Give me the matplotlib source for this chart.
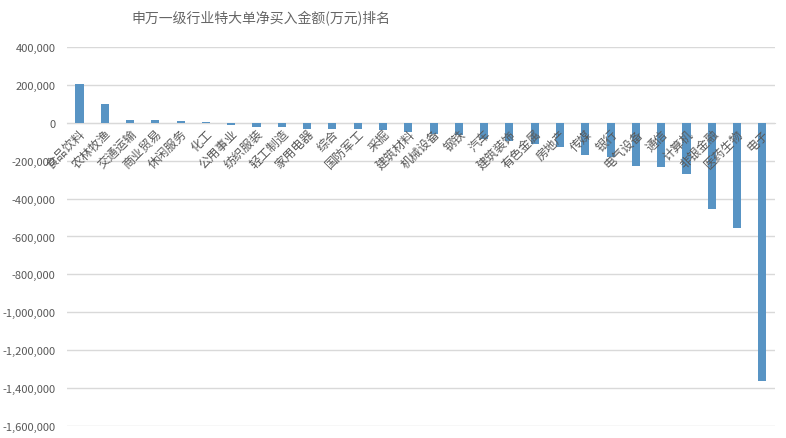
import matplotlib
matplotlib.use('Agg')
import matplotlib.pyplot as plt
from matplotlib.ticker import FuncFormatter

plt.rcParams['font.family'] = ['Noto Sans CJK SC', 'DejaVu Sans']

industries = ['食品饮料', '农林牧渔', '交通运输', '商业贸易', '休闲服务', '化工', '公用事业',
              '纺织服装', '轻工制造', '家用电器', '综合', '国防军工', '采掘', '建筑材料',
              '机械设备', '钢铁', '汽车', '建筑装饰', '有色金属', '房地产', '传媒', '银行',
              '电气设备', '通信', '计算机', '非银金融', '医药生物', '电子']
net_buy = [205000, 100000, 16000, 15000, 10000, 4000, -10000,
           -20000, -20000, -35000, -33000, -33000, -40000, -47000,
           -62000, -65000, -87000, -95000, -113000, -130000, -170000, -183000,
           -230000, -235000, -268000, -456000, -556000, -1360000]
yticks = list(range(-1600000, 400001, 200000))

fig = plt.figure(figsize=(7.86, 4.39), dpi=100)
ax = fig.add_axes([0.085, 0.027, 0.901, 0.864])

x = list(range(len(industries)))
ax.bar(x, net_buy, width=0.32, color='#5894C4', zorder=3)

ax.set_ylim(-1600000, 400000)
ax.set_xlim(-0.5, len(industries) - 0.5)
ax.set_yticks(yticks)
ax.yaxis.set_major_formatter(FuncFormatter(lambda v, p: '{:,.0f}'.format(v)))
ax.grid(axis='y', color='#d9d9d9', linewidth=1)
# gridlines behind the bars, category labels in front of them
ax.yaxis.set_zorder(0.5)
ax.xaxis.set_zorder(5)

for s in ['top', 'right', 'left']:
    ax.spines[s].set_visible(False)
ax.spines['bottom'].set_position(('data', 0))
ax.spines['bottom'].set_color('#d9d9d9')
ax.spines['bottom'].set_zorder(2)

ax.set_xticks(x)
ax.set_xticklabels(industries, rotation=45, ha='right', va='top',
                   rotation_mode='anchor', fontsize=8.8, color='#595959')
ax.tick_params(axis='x', length=0, pad=3)
ax.tick_params(axis='y', length=0, pad=8, labelsize=8, labelcolor='#595959')

fig.text(0.332, 0.957, '申万一级行业特大单净买入金额(万元)排名', ha='center', va='center',
         fontsize=10, color='#666666')

fig.savefig('out.png', dpi=100)
